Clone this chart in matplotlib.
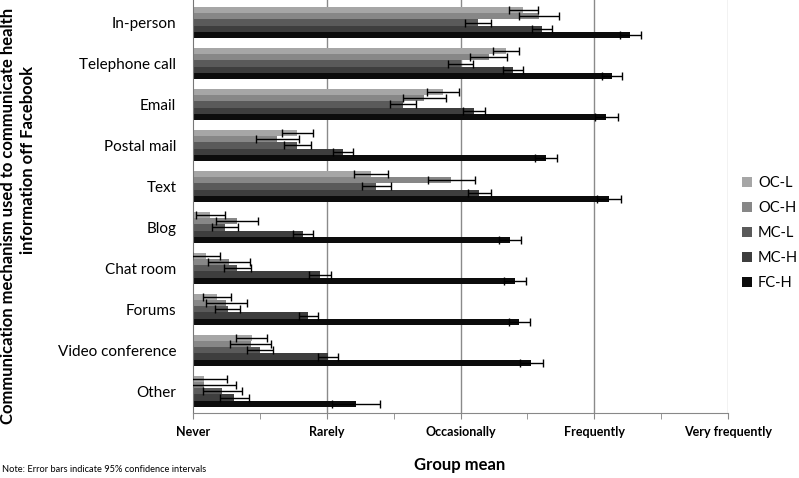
import numpy as np
from matplotlib import pyplot as plt

plt.rcParams['font.family'] = ['Lato', 'DejaVu Sans']

categories = ['In-person', 'Telephone call', 'Email', 'Postal mail', 'Text',
              'Blog', 'Chat room', 'Forums', 'Video conference', 'Other']
groups = ['OC-L', 'OC-H', 'MC-L', 'MC-H', 'FC-H']

# group means (1 = Never ... 5 = Very frequently)
oc_l = [3.47, 3.34, 2.87, 1.78, 2.33, 1.13, 1.10, 1.18, 1.44, 1.08]
oc_h = [3.59, 3.21, 2.73, 1.63, 2.93, 1.33, 1.27, 1.25, 1.43, 1.08]
mc_l = [3.13, 3.00, 2.57, 1.78, 2.37, 1.24, 1.33, 1.26, 1.50, 1.22]
mc_h = [3.61, 3.39, 3.10, 2.12, 3.14, 1.82, 1.95, 1.86, 2.01, 1.31]
fc_h = [4.27, 4.13, 4.09, 3.64, 4.11, 3.37, 3.41, 3.44, 3.53, 2.22]

# 95% CI half widths
oc_l_err = [0.11, 0.10, 0.12, 0.115, 0.125, 0.11, 0.105, 0.105, 0.115, 0.175]
oc_h_err = [0.15, 0.14, 0.16, 0.16, 0.175, 0.155, 0.155, 0.15, 0.155, 0.24]
mc_l_err = [0.095, 0.09, 0.10, 0.10, 0.11, 0.095, 0.10, 0.095, 0.10, 0.145]
mc_h_err = [0.072, 0.074, 0.08, 0.077, 0.085, 0.075, 0.08, 0.071, 0.077, 0.11]
fc_h_err = [0.08, 0.075, 0.086, 0.085, 0.09, 0.08, 0.082, 0.077, 0.084, 0.18]

ticklabels = ['Never', 'Rarely', 'Occasionally', 'Frequently', 'Very frequently']

means = [oc_l, oc_h, mc_l, mc_h, fc_h]
errs = [oc_l_err, oc_h_err, mc_l_err, mc_h_err, fc_h_err]
colors = ['#a6a6a6', '#878787', '#5a5a5a', '#3e3e3e', '#0c0c0c']

fig = plt.figure(figsize=(7.99, 4.78), dpi=100)
ax = fig.add_axes([193/799, 1-413/478, (728-193)/799, 413/478])

pos = np.arange(len(categories))
h = 0.152
for k in range(5):
    yk = pos - 2*h + k*h
    ax.barh(yk, np.array(means[k]) - 1, left=1, height=h, color=colors[k],
            label=groups[k], zorder=2)
    ax.errorbar(means[k], yk, xerr=errs[k], fmt='none', ecolor='black',
                elinewidth=1, capsize=3, capthick=1, zorder=3)

ax.set_xlim(1, 5)
ax.set_ylim(9.53, -0.55)
ax.set_xticks([1, 2, 3, 4, 5])
ax.set_xticks(np.arange(1.5, 5, 1), minor=True)
ax.set_xticklabels(ticklabels, fontsize=9, fontweight='bold')
ax.tick_params(axis='x', which='both', direction='out', length=4, color='#888888', pad=5)
ax.set_yticks(pos)
ax.set_yticklabels(categories, fontsize=11)
ax.tick_params(axis='y', length=0, pad=12)
for x in [2, 3, 4]:
    ax.axvline(x, color='#8a8a8a', lw=1, zorder=1)
ax.axvline(5, color='#bdbdbd', lw=1, zorder=1)

for s in ['top', 'right']:
    ax.spines[s].set_visible(False)
ax.spines['left'].set_color('#777777')
ax.spines['bottom'].set_color('#888888')

fig.text(460/799, 1-465/478, 'Group mean', fontsize=12, fontweight='bold',
         ha='center', va='center')
fig.text(8/799, 1-216/478, 'Communication mechanism used to communicate health',
         rotation=90, ha='center', va='center', fontsize=12, fontweight='bold')
fig.text(28/799, 1-160/478, 'information off Facebook',
         rotation=90, ha='center', va='center', fontsize=12, fontweight='bold')
fig.text(2/799, 1-470/478, 'Note: Error bars indicate 95% confidence intervals',
         fontsize=6.7, ha='left', va='center')

fig.legend(loc='center left', bbox_to_anchor=(742/799, 1-233/478), frameon=False,
           fontsize=10.5, handlelength=0.7, handleheight=0.7, labelspacing=0.75,
           handletextpad=0.4, borderaxespad=0, borderpad=0)

fig.savefig('out.png', dpi=100)
